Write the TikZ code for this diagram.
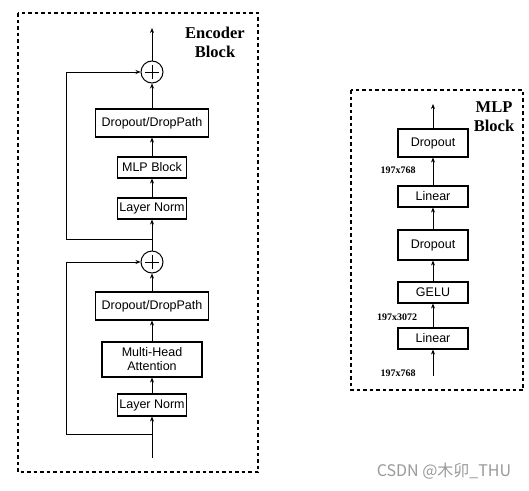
\documentclass[tikz,border=0pt]{standalone}
\usepackage{fontspec}
\setmainfont{Liberation Serif}
\setsansfont{Liberation Sans}
\newfontfamily\cjkfont{Noto Sans CJK SC}
\usetikzlibrary{arrows.meta}

\begin{document}
\begin{tikzpicture}[x=1pt, y=-1pt,
    every node/.style={inner sep=0pt},
    blk/.style={draw, line width=1.1pt, font=\sffamily\fontsize{12.5}{14}\selectfont, align=center},
    addop/.style={draw, circle, line width=1pt, minimum size=22pt,
      path picture={\draw[line width=1pt] ([yshift=-7pt]path picture bounding box.center) -- ([yshift=7pt]path picture bounding box.center)
        ([xshift=-7pt]path picture bounding box.center) -- ([xshift=7pt]path picture bounding box.center);}},
    arr/.style={-{Stealth[length=5pt,width=4pt]}, line width=0.7pt},
    frame/.style={line width=1.4pt, dash pattern=on 3.5pt off 3pt},
    ttl/.style={font=\rmfamily\bfseries\fontsize{16.5}{19}\selectfont, align=center},
    dim/.style={font=\rmfamily\bfseries\fontsize{10}{11}\selectfont}]
      \useasboundingbox (0,0) rectangle (529,490);
      % frames
      \draw[frame] (18,13) rectangle (258,472);
      \draw[frame] (351,90) rectangle (523,390);
      \node[ttl] (enctitle) at (215,42) {Encoder\\Block};
      \node[ttl] (mlptitle) at (494,117) {MLP\\Block};
      % encoder nodes
      \coordinate (in) at (152,458);
      \coordinate (split1) at (152,434);
      \coordinate (split2) at (152,239);
      \coordinate (out) at (152,28);
      \node[blk, minimum width=69pt, minimum height=22pt] (ln1) at (152,405) {Layer Norm};
      \node[blk, minimum width=100pt, minimum height=35pt] (mha) at (152,359.5) {Multi-Head\\Attention};
      \node[blk, minimum width=113pt, minimum height=28pt] (dp1) at (152,306) {Dropout/DropPath};
      \node[addop] (add1) at (152,262) {};
      \node[blk, minimum width=69pt, minimum height=21pt] (ln2) at (152,208.5) {Layer Norm};
      \node[blk, minimum width=69pt, minimum height=21pt] (mlp) at (152,167.5) {MLP Block};
      \node[blk, minimum width=113pt, minimum height=28pt] (dp2) at (152,123) {Dropout/DropPath};
      \node[addop] (add2) at (152,72) {};
      % encoder arrows
      \draw[arr] (in) -- (ln1);
      \draw[arr] (ln1) -- (mha);
      \draw[arr] (mha) -- (dp1);
      \draw[arr] (dp1) -- (add1);
      \draw[arr] (split1) -- (66,434) |- (add1.west);
      \draw[arr] (add1) -- (ln2);
      \draw[arr] (ln2) -- (mlp);
      \draw[arr] (mlp) -- (dp2);
      \draw[arr] (dp2) -- (add2);
      \draw[arr] (split2) -- (66,239) |- (add2.west);
      \draw[arr] (add2) -- (out);
      % mlp nodes
      \coordinate (min) at (433,376);
      \coordinate (mout) at (433,104);
      \node[blk, minimum width=70pt, minimum height=21pt] (lin1) at (433,338.5) {Linear};
      \node[blk, minimum width=70pt, minimum height=21pt] (gelu) at (433,292.5) {GELU};
      \node[blk, minimum width=70pt, minimum height=30pt] (drop1) at (433,245) {Dropout};
      \node[blk, minimum width=70pt, minimum height=21pt] (lin2) at (433,196.5) {Linear};
      \node[blk, minimum width=70pt, minimum height=28pt] (drop2) at (433,143) {Dropout};
      \node[dim] (d1) at (398,373) {197x768};
      \node[dim] (d2) at (397,317) {197x3072};
      \node[dim] (d3) at (398,170) {197x768};
      % mlp arrows
      \draw[arr] (min) -- (lin1);
      \draw[arr] (lin1) -- (gelu);
      \draw[arr] (gelu) -- (drop1);
      \draw[arr] (drop1) -- (lin2);
      \draw[arr] (lin2) -- (drop2);
      \draw[arr] (drop2) -- (mout);
      % watermark
      \node[text=black!40, font=\cjkfont\fontsize{16}{18}\selectfont] (mark) at (444,471) {CSDN @木卯\_THU};
\end{tikzpicture}
\end{document}
